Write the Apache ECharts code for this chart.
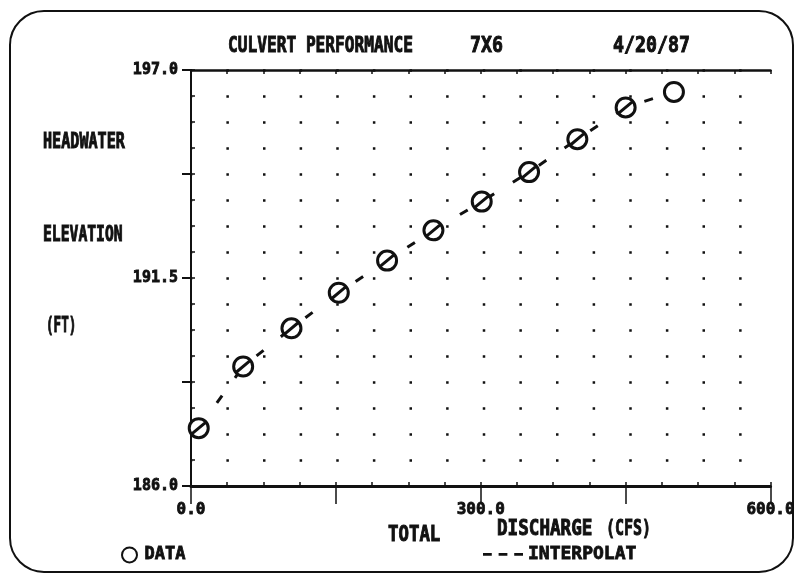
<!DOCTYPE html>
<html>
<head>
<meta charset="utf-8">
<script src="https://cdn.jsdelivr.net/npm/echarts@6/dist/echarts.min.js"></script>
<style>
  html, body { margin: 0; padding: 0; background: #fff; }
  #chart { width: 798px; height: 576px; }
</style>
</head>
<body>
<div id="chart"></div>
<script>
// discharge (cfs) vs headwater elevation (ft)
const discharge = [8, 54, 104, 153, 203, 251, 301, 350, 400, 450, 500]
const elevation = [187.53, 189.16, 190.17, 191.11, 191.96, 192.76, 193.52, 194.3, 195.17, 196.01, 196.42]
const xLabels = ['0.0', '300.0', '600.0']
const yLabels = ['186.0', '191.5', '197.0']

// old plotter lettering: narrow, heavy, slashed zeros
const FONT = "'DejaVu Sans Mono', monospace"
const INK = '#111'
const heavy = { color: INK, fontFamily: FONT, fontWeight: 'bold', textBorderColor: INK, textBorderWidth: 0.8 }

const chart = echarts.init(document.getElementById('chart'))

const points = discharge.map((x, i) => ({
  value: [x, elevation[i]],
  // the last marker has no slash through it
  symbol: i === discharge.length - 1
    ? 'circle'
    : 'path://M10,1 A9,9 0 1,1 9.99,1 Z M4,15 L16,5'
}))

// squeezed free text
const txt = (x, y, text, size, sx) => ({
  type: 'text', x, y, scaleX: sx, scaleY: 1,
  style: {
    text, fill: INK, stroke: INK, lineWidth: 1, font: `bold ${size}px ${FONT}`,
    textAlign: 'left', textVerticalAlign: 'middle'
  }
})

const option = {
  backgroundColor: '#fff',
  animation: false,
  grid: { left: 191, right: 21, top: 70, bottom: 90 },
  legend: [
    {
      data: ['DATA'], left: 116, top: 541, itemWidth: 20, itemHeight: 15, itemGap: 12,
      textStyle: { ...heavy, fontSize: 17 }
    },
    {
      data: [{ name: 'INTERPOLAT', icon: 'path://M0,0h9v3h-9z M16,0h9v3h-9z M32,0h9v3h-9z' }],
      left: 478, top: 540, itemWidth: 40, itemHeight: 3, itemGap: 6,
      textStyle: { ...heavy, fontSize: 18 }
    }
  ],
  xAxis: [
    {
      type: 'value', position: 'bottom', min: 0, max: 600, interval: 150,
      axisLine: { lineStyle: { color: INK, width: 3 } },
      axisTick: { length: 18, lineStyle: { color: INK, width: 1.5 } },
      axisLabel: {
        ...heavy, margin: 16, fontSize: 16,
        formatter: v => (v % 300 === 0 ? xLabels[v / 300] : '')
      },
      splitLine: { show: false }
    },
    {
      type: 'value', position: 'bottom', min: 0, max: 600, interval: 37.5,
      axisLine: { show: false },
      axisTick: { inside: true, length: 4, lineStyle: { color: INK, width: 1.5 } },
      axisLabel: { show: false }, splitLine: { show: false }
    },
    {
      type: 'value', position: 'top', min: 0, max: 600, interval: 37.5,
      axisLine: { lineStyle: { color: INK, width: 2.5 } },
      axisTick: { inside: true, length: 4, lineStyle: { color: INK, width: 1.5 } },
      axisLabel: { show: false }, splitLine: { show: false }
    }
  ],
  yAxis: [
    {
      type: 'value', position: 'left', min: 186, max: 197, interval: 2.75,
      axisLine: { show: true, lineStyle: { color: INK, width: 2 } },
      axisTick: { show: true, length: 9, lineStyle: { color: INK, width: 2 } },
      axisLabel: {
        ...heavy, margin: 13, fontSize: 15,
        formatter: v => {
          const i = Math.round((v - 186) / 5.5 * 100) / 100
          return Number.isInteger(i) ? yLabels[i] : ''
        }
      },
      splitLine: { show: false }
    },
    {
      // dotted grid: one row of dots per minor division
      type: 'value', position: 'left', min: 186, max: 197, interval: 0.6875,
      axisLine: { show: false },
      axisTick: { show: true, inside: true, length: 4, lineStyle: { color: INK, width: 1.5 } },
      axisLabel: { show: false },
      splitLine: {
        show: true,
        lineStyle: { color: INK, width: 2.5, type: [2.5, 34.125], dashOffset: 1.25 }
      }
    },
    {
      type: 'value', position: 'right', min: 186, max: 197,
      axisLine: { show: true, lineStyle: { color: INK, width: 2 } },
      axisTick: { show: false }, axisLabel: { show: false }, splitLine: { show: false }
    }
  ],
  series: [
    {
      name: 'INTERPOLAT', type: 'line', data: discharge.map((x, i) => [x, elevation[i]]),
      symbol: 'none', smooth: false,
      lineStyle: { color: INK, width: 3, type: [9, 22] },
      itemStyle: { color: INK }
    },
    {
      name: 'DATA', type: 'scatter', data: points, symbolSize: [19, 19],
      itemStyle: { color: '#fff', borderColor: INK, borderWidth: 3, opacity: 1 },
      z: 5
    }
  ],
  graphic: [
    {
      type: 'rect', shape: { x: 10, y: 11, width: 783, height: 561, r: 34 },
      style: { fill: 'none', stroke: INK, lineWidth: 2 }
    },
    txt(228, 46, 'CULVERT PERFORMANCE', 22, 0.735),
    txt(470, 46, '7X6', 22, 0.83),
    txt(613, 46, '4/20/87', 22, 0.83),
    txt(43, 143, 'HEADWATER', 21, 0.72),
    txt(43, 236, 'ELEVATION', 21, 0.7),
    txt(46, 327, '(FT)', 21, 0.6),
    txt(388, 535, 'TOTAL', 22, 0.79),
    txt(497, 529, 'DISCHARGE', 22, 0.8),
    txt(606, 529, '(CFS)', 22, 0.68)
  ]
}

chart.setOption(option)
</script>
</body>
</html>
